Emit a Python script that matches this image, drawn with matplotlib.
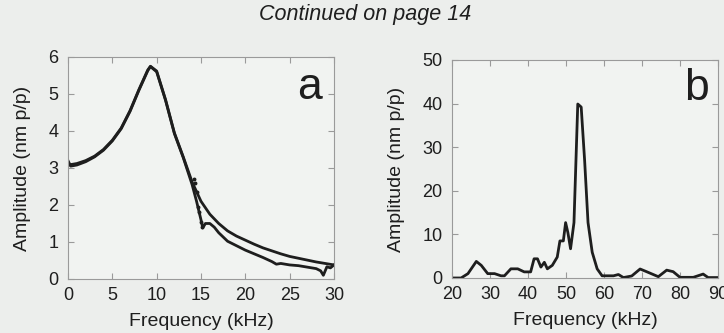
import matplotlib
matplotlib.use("Agg")
import matplotlib.pyplot as plt

# panel a: resonance of the cantilever, fit and measurement
freq_fit = [0, 1, 2, 3, 4, 5, 6, 7, 8, 9, 9.3, 10, 11, 12, 13, 14, 15, 16, 17, 18,
            19, 20, 21, 22, 23, 24, 25, 26, 27, 28, 29, 30]
amp_fit = [3.08, 3.12, 3.2, 3.32, 3.5, 3.75, 4.08, 4.55, 5.12, 5.65, 5.75, 5.62, 4.85,
           3.95, 3.3, 2.62, 2.1, 1.75, 1.5, 1.3, 1.16, 1.05, 0.94, 0.84, 0.76, 0.68,
           0.61, 0.56, 0.51, 0.46, 0.42, 0.38]

freq_meas = [0, 0.3, 1, 2, 3, 4, 5, 6, 7, 8, 9, 9.3, 10, 11, 12, 13, 14, 14.5, 15,
             15.2, 15.5, 16, 16.5, 17, 18, 19, 20, 21, 22, 23, 23.5, 24, 25, 26, 27,
             28, 28.5, 28.8, 29.2, 29.6, 30]
amp_meas = [3.2, 3.05, 3.08, 3.17, 3.3, 3.48, 3.73, 4.06, 4.53, 5.1, 5.63, 5.74, 5.6,
            4.83, 3.93, 3.28, 2.55, 2.1, 1.6, 1.38, 1.5, 1.5, 1.4, 1.25, 1.02, 0.9,
            0.78, 0.68, 0.58, 0.47, 0.4, 0.42, 0.38, 0.36, 0.32, 0.28, 0.22, 0.1,
            0.33, 0.3, 0.38]

# scattered points around the jump near 15 kHz
freq_dots = [14.2, 14.3, 14.5, 14.7, 14.8, 15.0, 15.1]
amp_dots = [2.7, 2.6, 2.35, 1.95, 1.8, 1.55, 1.4]

# panel b: spectrum
freq_b = [20, 22.4, 24.2, 26.4, 27.7, 29.4, 31.2, 32.9, 33.8, 35.5, 37.3, 39, 40.7,
          41.6, 42.5, 43.4, 44.3, 45.1, 46.4, 47.7, 48.4, 49.3, 49.9, 50.5, 51.2,
          52.1, 53.1, 54.0, 54.9, 55.8, 56.9, 58.2, 59.5, 62.5, 63.8, 65.1, 67.3,
          69.5, 71.2, 74.3, 76.5, 78.2, 80, 83.5, 86.1, 87.4, 90]
amp_b = [0, 0, 1.0, 3.8, 2.9, 1.0, 1.0, 0.5, 0.5, 2.1, 2.1, 1.4, 1.4, 4.4, 4.4, 2.5,
         3.6, 2.1, 2.9, 4.8, 8.5, 8.5, 12.7, 10.4, 6.7, 12.7, 39.9, 39.2, 27, 12.7,
         5.9, 2.1, 0.5, 0.5, 0.8, 0.1, 0.46, 2.06, 1.45, 0.3, 1.8, 1.45, 0.15, 0.15,
         0.9, 0.1, 0.1]

BG = "#eceeec"
INK = "#1e1e1e"
GRAY = "#9a9a9a"

plt.rcParams["font.family"] = ["Liberation Sans", "DejaVu Sans"]

fig = plt.figure(figsize=(7.24, 3.33), dpi=100, facecolor=BG)


def style(ax):
    ax.set_facecolor("#f1f3f1")
    for s in ax.spines.values():
        s.set_color(GRAY)
        s.set_linewidth(0.8)
    ax.tick_params(direction="in", top=True, right=True, length=4, width=0.8,
                   color=GRAY, labelsize=13, labelcolor=INK)
    ax.tick_params(axis="x", pad=6)
    ax.tick_params(axis="y", pad=7)
    ax.set_xlabel("Frequency (kHz)", fontsize=14, color=INK, labelpad=6)
    ax.set_ylabel("Amplitude (nm p/p)", fontsize=14, color=INK, labelpad=12)


ax1 = fig.add_axes([0.0939, 0.1622, 0.3674, 0.6667])
ax1.plot(freq_fit, amp_fit, color=INK, lw=2.0)
ax1.plot(freq_meas, amp_meas, color=INK, lw=2.0)
ax1.plot(freq_dots, amp_dots, ls="", marker="o", ms=1.8, color=INK)
ax1.set_xlim(0, 30)
ax1.set_ylim(0, 6)
ax1.set_xticks(range(0, 31, 5))
ax1.set_yticks(range(0, 7))
style(ax1)
ax1.text(0.955, 0.955, "a", transform=ax1.transAxes, fontsize=32, color=INK,
         ha="right", va="top")

ax2 = fig.add_axes([0.6243, 0.1652, 0.3674, 0.6547])
ax2.plot(freq_b, amp_b, color=INK, lw=2.0)
ax2.set_xlim(20, 90)
ax2.set_ylim(0, 50)
ax2.set_xticks(range(20, 91, 10))
ax2.set_yticks(range(0, 51, 10))
style(ax2)
ax2.text(0.965, 0.965, "b", transform=ax2.transAxes, fontsize=32, color=INK,
         ha="right", va="top")

fig.text(0.505, 0.955, "Continued on page 14", fontsize=15.5, style="italic",
         color=INK, ha="center", va="center")

fig.savefig("out.png", dpi=100, facecolor=BG)
